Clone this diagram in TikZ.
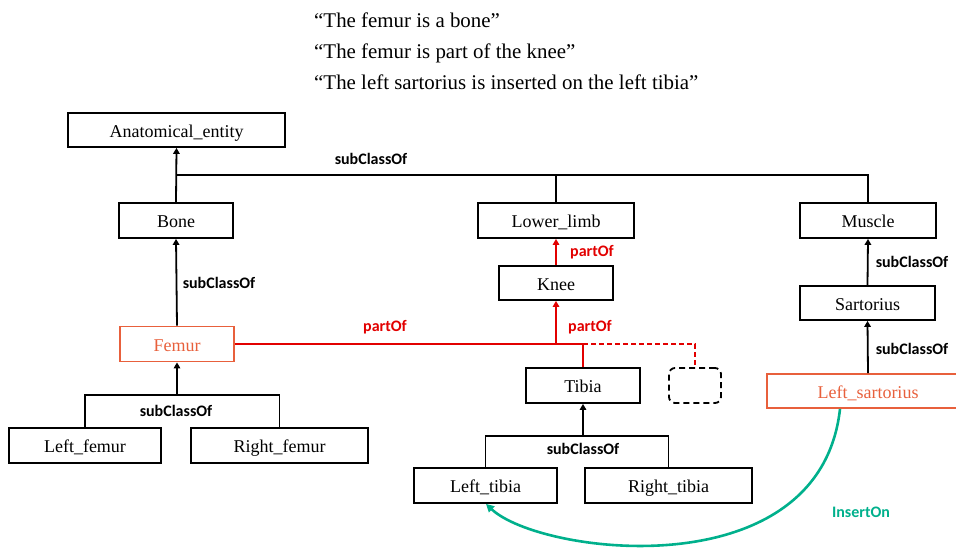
\documentclass[tikz,border=0pt]{standalone}
\usepackage{fontspec}
\setmainfont{Liberation Serif}
\newfontfamily\lblfont{Carlito}
\usetikzlibrary{arrows.meta}
\definecolor{myred}{RGB}{226,0,0}
\definecolor{myorange}{RGB}{232,96,60}
\definecolor{myteal}{RGB}{0,176,140}
\tikzset{
  box/.style={draw, line width=1.8pt, inner sep=0pt, minimum height=35pt,
    text height=14pt, text depth=0pt,
    font=\fontsize{18}{20}\selectfont},
  obox/.style={box, draw=myorange, text=myorange},
  lbl/.style={font=\lblfont\bfseries\fontsize{16}{18}\selectfont, inner sep=0pt},
  rlbl/.style={lbl, text=myred},
  quote/.style={anchor=base west, inner sep=0pt, font=\fontsize{20.9}{22}\selectfont},
  conn/.style={line width=1.8pt},
  rconn/.style={line width=1.8pt, draw=myred},
  arr/.style={-{Triangle[length=6pt,width=6.5pt]}},
}
\begin{document}
\begin{tikzpicture}[x=1pt,y=-1pt]
\useasboundingbox (0,0) rectangle (956,547);
\clip (0,0) rectangle (956,547);

% quotes
\node[quote] (q1) at (314,27) {“The femur is a bone”};
\node[quote] (q2) at (314,58) {“The femur is part of the knee”};
\node[quote] (q3) at (314,89) {“The left sartorius is inserted on the left tibia”};

% boxes
\node[box, minimum width=217pt, minimum height=34pt] (ae) at (176.5,130) {Anatomical\_entity};
\node[box, minimum width=114pt] (bone) at (176,220.5) {Bone};
\node[box, minimum width=156pt] (lower) at (556,220.5) {Lower\_limb};
\node[box, minimum width=136pt] (muscle) at (868,220.5) {Muscle};
\node[box, minimum width=114pt, minimum height=34pt] (knee) at (556,283) {Knee};
\node[obox, minimum width=114pt] (femur) at (177,344) {Femur};
\node[box, minimum width=135pt, minimum height=34pt] (sart) at (867.5,303) {Sartorius};
\node[obox, minimum width=202pt, minimum height=34pt] (lsart) at (868,391) {Left\_sartorius};
\node[box, minimum width=114pt] (tibia) at (583,385.5) {Tibia};
\node[draw, line width=1.8pt, dash pattern=on 6pt off 4pt, rounded corners=6pt, minimum width=52pt, minimum height=35pt, inner sep=0pt] (dbox) at (695,385.5) {};
\node[box, minimum width=152pt] (lfemur) at (85,445.5) {Left\_femur};
\node[box, minimum width=177pt] (rfemur) at (279.5,445.5) {Right\_femur};
\node[box, minimum width=143pt] (ltibia) at (485.5,485.5) {Left\_tibia};
\node[box, minimum width=167pt] (rtibia) at (668.5,485.5) {Right\_tibia};

% junctions
\coordinate (j1) at (176,175);
\coordinate (fj) at (177,395);
\coordinate (kj) at (556,344);
\coordinate (tj) at (583,344);
\coordinate (tbj) at (583,436);

% top tree
\draw[conn, arr] (bone.north) -- (ae.south);
\draw[conn] (j1) -- (j1 -| muscle.north) -- (muscle.north);
\draw[conn] (lower.north) -- (lower.north |- j1);
\node[lbl] (l1) at (371,159) {subClassOf};

% bone - femur
\draw[conn, arr] (femur.north) -- (bone.south);
\node[lbl] (l2) at (219,283) {subClassOf};

% femur bracket
\draw[conn, arr] (fj) -- (femur.south);
\draw[conn] (lfemur.north) |- (rfemur.north |- fj) -- (rfemur.north);
\node[lbl] (l3) at (176,411) {subClassOf};

% partOf
\draw[rconn] (femur.east) -- (tj) -- (tibia.north);
\draw[rconn, arr] (kj) -- (knee.south);
\draw[rconn, dash pattern=on 5pt off 3pt] (tj) -| (dbox.north);
\draw[rconn, arr] (knee.north) -- (lower.south);
\node[rlbl] (p1) at (385,327) {partOf};
\node[rlbl] (p2) at (590,327) {partOf};
\node[rlbl] (p3) at (592,252) {partOf};

% tibia bracket
\draw[conn, arr] (tbj) -- (tibia.south);
\draw[conn] (ltibia.north) |- (rtibia.north |- tbj) -- (rtibia.north);
\node[lbl] (l4) at (583,449) {subClassOf};

% sartorius
\draw[conn, arr] (sart.north) -- (muscle.south);
\draw[conn, arr] (lsart.north) -- (sart.south);
\node[lbl] (l5) at (912,262) {subClassOf};
\node[lbl] (l6) at (912,349) {subClassOf};

% InsertOn
\draw[line width=2.6pt, draw=myteal, -{Triangle[length=8pt,width=8pt]}]
  ([xshift=-28pt]lsart.south) .. controls (820,590) and (540,555) .. ([xshift=0.5pt]ltibia.south);
\node[lbl, text=myteal] (io) at (861,512) {InsertOn};
\end{tikzpicture}
\end{document}
